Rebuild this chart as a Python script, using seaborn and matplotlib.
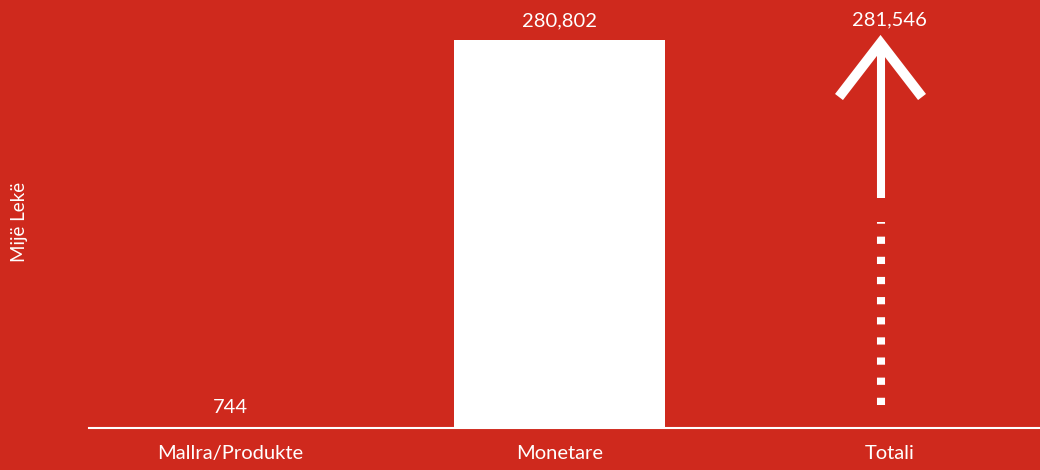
import matplotlib
matplotlib.use("Agg")
import matplotlib.pyplot as plt
import seaborn as sns
import pandas as pd

categories = ["Mallra/Produkte", "Monetare", "Totali"]
bar_values = [744, 280802, 0]
labels = ["744", "280,802", "281,546"]
total_value = 281546
y_label = "Mijë Lekë"

BG = "#CF291D"
sns.set_theme(style="white")
plt.rcParams["font.family"] = ["Lato", "DejaVu Sans"]

fig = plt.figure(figsize=(10.4, 4.7), dpi=100, facecolor=BG)
ax = fig.add_axes([89 / 1040, 42 / 470, 951 / 1040, 428 / 470])
ax.set_facecolor(BG)

df = pd.DataFrame({"cat": categories, "val": bar_values})
sns.barplot(data=df, x="cat", y="val", color="white", saturation=1,
            width=0.64, ax=ax, edgecolor="none")

ax.set_xlim(-0.429, 2.457)
ymax = 280802 * 428 / 388
ax.set_ylim(0, ymax)

# Total arrow on third category
xa = 2 - 0.027
ax.plot([xa, xa], [total_value * 0.59, total_value * 0.98], color="white",
        lw=5.8, solid_capstyle="butt")
dy = 39000
dx = 0.126
tip = total_value - 3000
ax.plot([xa - dx, xa, xa + dx], [tip - dy, tip, tip - dy],
        color="white", lw=7.2, solid_joinstyle="miter", solid_capstyle="butt")
ax.plot([xa, xa], [total_value * 0.059, total_value * 0.53], color="white",
        lw=5.8, dashes=(0.9, 1.6), dash_capstyle="butt")

# value labels
tops = [bar_values[0], bar_values[1], total_value]
for i, (t, lab) in enumerate(zip(tops, labels)):
    ax.annotate(lab, (i, t), xytext=(0, 14), textcoords="offset points",
                ha="center", va="center", color="white", fontsize=14.5)

for s in ["top", "right", "left"]:
    ax.spines[s].set_visible(False)
ax.spines["bottom"].set_color("white")
ax.spines["bottom"].set_linewidth(1.5)
ax.set_yticks([])
ax.set_xlabel("")
ax.set_ylabel("")
ax.tick_params(axis="x", colors="white", labelsize=14.5, length=0, pad=12)
for t in ax.get_xticklabels():
    t.set_color("white")
fig.text(20 / 1040, 1 - 222 / 470, y_label, rotation=90, color="white",
         fontsize=13.5, ha="center", va="center")

fig.savefig("out.png", dpi=100, facecolor=BG)
